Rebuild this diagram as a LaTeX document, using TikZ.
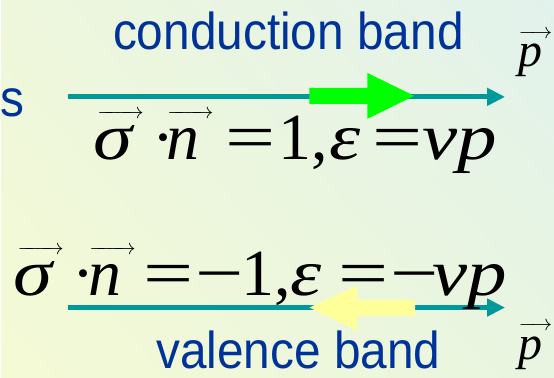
\documentclass[tikz,border=0pt]{standalone}
\usepackage{fontspec}
\usetikzlibrary{arrows.meta,positioning,shadings}
\newfontfamily\sansf[FakeStretch=0.92]{Liberation Sans}
\newfontfamily\serf{Liberation Serif}
\definecolor{txtblue}{HTML}{003399}
\definecolor{bandline}{HTML}{009999}
\definecolor{elgreen}{HTML}{00FF00}
\definecolor{holeyel}{HTML}{FFFF99}
\definecolor{bgul}{HTML}{EEF7DC}
\definecolor{bgur}{HTML}{E2F2EC}
\definecolor{bgll}{HTML}{F4FAD4}
\definecolor{bglr}{HTML}{E9F5E0}
\newcommand{\vecit}[1]{\setbox0\hbox{\itshape #1}\edef\arrw{\the\dimexpr.32em\relax}\edef\arrup{\the\dimexpr.71em-5.5pt\relax}%
  \hbox to\wd0{\hss\kern.22em\raisebox{\arrup}[0pt][0pt]{\scalebox{2.2}{\fontsize{10}{12}\selectfont\hbox to\arrw{\rightarrowfill}}}\hss}\llap{\box0}}
\newcommand{\eqsign}{\scalebox{1.35}[1]{=}}
\newcommand{\mns}{\scalebox{1.3}[1]{−}}
\newcommand{\wid}[1]{\scalebox{1.2}[1]{\itshape #1}}
\newcommand{\gl}[2]{\makebox[#1pt][l]{#2}}
\begin{document}
\begin{tikzpicture}[x=1pt,y=1pt,>={Triangle[length=18pt,width=17pt]}]
\tikzstyle{B}=[inner sep=0pt,text=txtblue,font=\sansf\fontsize{52}{56}\selectfont]
\tikzstyle{E}=[inner sep=0pt,font=\serf\fontsize{66}{70}\selectfont]
\tikzstyle{P}=[inner sep=0pt,font=\serf\fontsize{48}{52}\selectfont]
\tikzstyle{band}=[->,bandline,line width=5pt]
\shade[upper left=bgul,upper right=bgur,lower left=bgll,lower right=bglr] (0,0) rectangle (554,378);
\node[B,anchor=base] (cb) at (288,328) {conduction band}; \node[B,anchor=base west] (s) at (-1,261) {s};
\coordinate (c1) at (67,281); \coordinate (c2) at (505,281); \draw[band] (c1) -- (c2);
\coordinate (v1) at (67,70); \coordinate (v2) at (505,70); \draw[band] (v1) -- (v2);
\fill[elgreen] (309,274) -- (367,274) -- (367,259) -- (414,282) -- (367,305) -- (367,290) -- (309,290) -- cycle;
\fill[holeyel] (415,62) -- (357,62) -- (357,47) -- (309,70) -- (357,92) -- (357,78) -- (415,78) -- cycle;
\node[E,anchor=base west] (eq1) at (93,218) {\gl{59}{\vecit{\wid{σ}}}\gl{14}{·}\gl{59}{\vecit{n}}\gl{53}{\eqsign}\gl{51}{1,}\gl{43}{\wid{ε}}\gl{50}{\eqsign}\wid{vp}};
\node[E,anchor=base west] (eq2) at (13,82) {\gl{59}{\vecit{\wid{σ}}}\gl{16}{·}\gl{55}{\vecit{n}}\gl{52}{\eqsign}\gl{46}{\mns}\gl{49}{1,}\gl{48}{\wid{ε}}\gl{52}{\eqsign}\gl{42}{\mns}\wid{vp}};
\node[P,anchor=base west] (p1) at (518,311) {\vecit{p}}; \node[P,anchor=base west] (p2) at (518,18) {\vecit{p}};
\node[B,anchor=base] (vb) at (298,9) {valence band};
\end{tikzpicture}
\end{document}
